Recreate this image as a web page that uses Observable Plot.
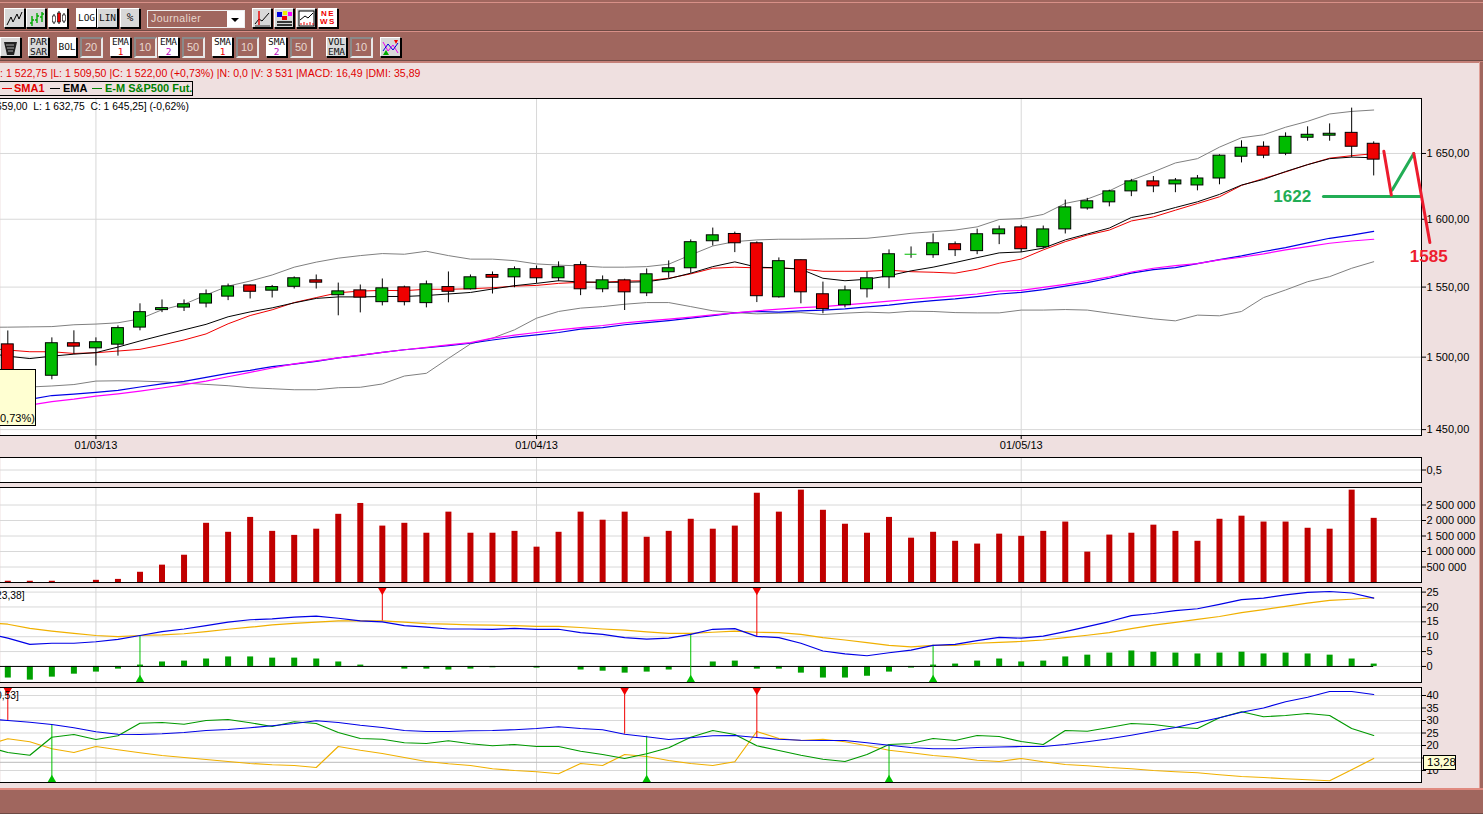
<!DOCTYPE html>
<html lang="fr">
<head>
<meta charset="utf-8">
<title>E-M S&amp;P500 Fut.</title>
<script src="https://cdn.jsdelivr.net/npm/d3@7"></script>
<script src="https://cdn.jsdelivr.net/npm/@observablehq/plot@0.6"></script>
<style>
html,body{margin:0;padding:0;width:1483px;height:814px;overflow:hidden;background:#efe0e0;font-family:"Liberation Sans",Arial,sans-serif}
#page{position:relative;width:1483px;height:814px;overflow:hidden}
.panel{position:absolute;left:0}
.panel svg{display:block;overflow:visible}
.abs{position:absolute;white-space:pre}
.bar{position:absolute;left:0;right:0;background:#a0665e}
.btn{position:absolute;box-sizing:border-box;background:#d8d8d8;border:1px solid #000;border-left-color:#fff;border-top-color:#fff;box-shadow:1px 1px 0 #000;font:9.5px/10px "DejaVu Sans Mono",monospace;color:#111;text-align:center;display:flex;flex-direction:column;align-items:center;justify-content:center}
.btn.on{background:#fff}
.inp{position:absolute;box-sizing:border-box;background:#a0665e;border:2px solid #8a8a8a;border-right-color:#e8e8e8;border-bottom-color:#e8e8e8;color:#e8d8d0;font:11px/17px "Liberation Sans",sans-serif;padding-left:3px}
.status{left:0;top:67px;font-size:10.5px;line-height:13px;color:#e00000;letter-spacing:.07px}
.legend{left:-1px;top:81px;width:194px;height:15px;box-sizing:border-box;border:1px solid #000;font:bold 11px/13px "Liberation Sans",sans-serif}
.legend span{position:absolute;top:0;white-space:pre}
.legend i{position:absolute;top:6px;height:1px;width:10px}
.info{font-size:10.3px;line-height:13px;color:#000}
.tip{background:#ffffd2;border:1px solid #000;box-sizing:border-box;font-size:11px;color:#000}
</style>
</head>
<body>
<div id="page"></div>
<script>
// ---- Axis labels and ticks
const dateTicks = [4, 24, 46];
const dateLabels = ["01/03/13", "01/04/13", "01/05/13"];
const priceTicks = [1450, 1500, 1550, 1600, 1650];
const volumeTicks = [500000, 1000000, 1500000, 2000000, 2500000];
const macdTicks = [0, 5, 10, 15, 20, 25];
const dmiTicks = [10, 15, 20, 25, 30, 35, 40];

// ---- Daily candles, sessions 0..62
const opens = [1509,1480,1487,1509.8,1506.2,1508.8,1520.9,1533.4,1535.2,1538.1,
1543.1,1551.2,1547.4,1550.2,1554.9,1544.1,1547.6,1539.1,1549.8,1538.4,
1550,1548.4,1558.8,1557.1,1563,1556.4,1566,1548.4,1554.9,1545.5,
1560.8,1563.7,1583.6,1589,1582.1,1542.6,1569.6,1544.8,1536.9,1548.4,
1557.1,1574,1573.3,1581.4,1576.3,1588.8,1593.9,1579.2,1592.4,1608.1,
1612.7,1621,1628.6,1626.3,1625.5,1630.8,1647.5,1655.2,1649.8,1662.2,
1663.8,1666,1657.5];
const highs = [1518.5,1490,1513.6,1518.6,1513.6,1522.1,1537.9,1540.7,1540.7,1547.9,
1552.2,1551.5,1551.2,1557.4,1558.8,1552.9,1551.5,1555.9,1550.7,1554.4,
1561,1558.8,1561,1564.7,1565.4,1568.4,1568.4,1558.1,1555.7,1563.2,
1569.1,1584.6,1593.4,1590.4,1583.1,1571.3,1569.9,1553.6,1550.7,1561,
1577.2,1579.4,1589,1583.1,1592.6,1594.9,1595.4,1594.9,1614.4,1615.7,
1621.9,1630.1,1632.3,1630.8,1633.1,1649,1659.8,1659,1666,1670.7,
1673,1685.4,1659];
const lows = [1481,1470,1484.2,1502,1493.8,1500.7,1518.6,1531.6,1532.4,1535,
1540.2,1541.4,1542.1,1548.6,1548.6,1529.3,1531.4,1536.4,1536.4,1535,
1538.6,1547.9,1545,1549.5,1552.7,1553.9,1543.8,1545.9,1533.1,1543.1,
1556.4,1560,1580.1,1575.2,1538.8,1542,1537.9,1530.7,1535,1542.1,
1548.8,1571,1571,1572.3,1573.7,1581.1,1575.2,1577.9,1589,1606.8,
1609.3,1617,1620,1620,1621.4,1626,1642.7,1646,1648.3,1659.5,
1659.5,1646.7,1632.75];
const closes = [1485.5,1474,1509.8,1507.4,1510.5,1520.5,1531.9,1534.8,1537.6,1544.8,
1550.5,1546.6,1550,1556.4,1553.2,1546.9,1542.4,1549.1,1539.1,1552,
1546.6,1557.1,1556.8,1563,1556.4,1564.5,1548.4,1554.9,1546.2,1559.3,
1563.7,1582.9,1588,1582.1,1543.4,1568.9,1546.2,1534.1,1547.6,1556.4,
1574,1574,1582.1,1577,1588.8,1592.4,1577.7,1592.4,1608.9,1613.5,
1621,1628.6,1624.8,1629.3,1630.8,1648.3,1654.4,1648.3,1662.9,1664.5,
1665.3,1655.2,1645.25];

// ---- Price overlays, sessions -1..62 (the first value runs off the left edge)
const ema = [1503,1500.7,1499,1500.7,1502.1,1503.2,1507.1,1511.4,1515.4,1519.3,1523.2,
1528.6,1532.1,1535,1538.6,1541.8,1542.9,1542.9,1543.2,1543.2,1543.9,
1545,1546.1,1548.6,1551,1552.7,1554.6,1553.7,1553.5,1553.5,1553.9,
1556.1,1560.1,1564.9,1568.4,1564.5,1564,1563,1556.4,1554.6,1555.7,
1558.3,1561.8,1564.5,1567.9,1571.5,1575,1575.7,1578.5,1584.6,1589,
1593.4,1601.3,1604.3,1608.8,1613.1,1618.7,1625.8,1630.1,1636.1,1641.4,
1646,1647.2,1646.7];
const sma = [1506.4,1505,1503.8,1503.8,1502.6,1503.1,1504.3,1505.5,1508.6,1512.1,1516.4,
1523.6,1529.5,1533.6,1538.8,1542.4,1545.9,1547.1,1547.6,1547.4,1548.4,
1548.4,1548.8,1549.5,1550.7,1551.2,1552.7,1553.5,1553.5,1554.4,1554.6,
1556.4,1559.6,1563.7,1564.5,1564,1564,1563.2,1561.5,1561.5,1561.5,
1562.3,1561.2,1560.8,1560.1,1563,1567.4,1570.4,1577.2,1583.3,1588.2,
1591.9,1598.7,1601.7,1606.8,1611.8,1616.9,1625.5,1630.8,1635.8,1641.4,
1646.4,1648.3,1649.8];
const bollUpper = [1521.1,1521.2,1521.4,1521.6,1522.9,1523.4,1524.3,1527.1,1533.6,1537.6,1544.3,
1550.7,1554.4,1558.8,1564.5,1568.2,1571.1,1573,1574.5,1574,1576.2,
1573,1570.4,1570.4,1569.3,1566.9,1566,1565.4,1564.5,1564.5,1564.9,
1566.7,1573.5,1580.1,1583.3,1584.6,1585.1,1585.1,1585.3,1585.5,1585.8,
1587.5,1589.5,1590.7,1591.9,1594.3,1599.8,1600.5,1603.6,1611.9,1615.2,
1621.4,1629.5,1635.8,1642.7,1646,1654.9,1662.2,1664.5,1670.4,1675,
1680.8,1682.8,1683.9];
const bollLower = [1477,1477.8,1479.2,1479.9,1480.9,1483.3,1483.5,1483.3,1482.8,1481.9,1481,
1480.1,1478.7,1478,1477.3,1477.3,1478.7,1479,1481.3,1486.8,1488.7,
1499.1,1509.3,1513.4,1519.3,1527.6,1532.4,1534.8,1535.9,1537.6,1538.8,
1538.8,1535.9,1532.9,1531.6,1530.7,1531.2,1531.6,1530.2,1531.2,1531.9,
1531.4,1532.6,1532.4,1531.6,1531.4,1531.4,1533.4,1533.4,1533.8,1533.4,
1531.2,1529.1,1527.1,1525.7,1529.8,1529.3,1532.4,1542.4,1547.9,1553.9,
1557.6,1563.7,1568.5];
const ema50 = [1469.4,1469.8,1470.6,1473.3,1474.3,1475.5,1476.9,1479.2,1481.3,1483.1,1485.9,
1488.7,1490.8,1493.3,1495.1,1497,1499.5,1501.2,1503.4,1505.2,1506.6,
1508.1,1509.8,1512.1,1514.1,1515.7,1517.4,1519.8,1520.9,1522.9,1524.5,
1525.9,1527.6,1529.5,1531.4,1532.4,1531.9,1532.9,1533.4,1534.3,1535.7,
1536.9,1538.8,1540.2,1541.4,1543.1,1545,1546.2,1548.1,1550.7,1553.2,
1556.4,1560.1,1562.7,1564.2,1567.1,1570.1,1572.8,1576,1578.9,1582.4,
1585.8,1588.2,1591];
const sma50 = [1464.6,1465.3,1466.7,1469.1,1470.8,1472.9,1474.5,1476.4,1478.5,1480.8,1483.3,
1486.3,1489.4,1492.4,1495.3,1497.4,1499.5,1501.4,1503.4,1505.2,1506.9,
1508.6,1510.2,1513.4,1515.5,1517.4,1519.3,1520.9,1522.4,1524.3,1525.7,
1526.9,1528.4,1530,1531.4,1532.9,1534.1,1535.2,1535.9,1537.1,1538.4,
1539.8,1541.2,1542.4,1543.6,1545,1547,1547.6,1549.8,1552,1554.6,
1557.4,1561,1563.7,1565.7,1567.1,1569.9,1571.8,1574.3,1577.2,1579.6,
1582.1,1583.8,1585.1];

// ---- Hand-drawn forecast on the price panel
const forecastDownX = [62.46, 62.8];
const forecastDownY = [1651.8, 1618.2];
const forecastUpX = [62.84, 63.82];
const forecastUpY = [1622, 1650];
const forecastFallX = [63.82, 64.55];
const forecastFallY = [1650, 1582.6];
const supportX = [59.72, 64.12];
const supportY = [1617.2, 1617.2];
const labelValues = ["1622", "1585"];
const labelX = [58.3, 64.5];
const labelY = [1617, 1572.3];

// ---- Volume, sessions 0..62
const volume = [40000,40000,40000,0,70000,100000,330000,560000,880000,1910000,
1620000,2100000,1650000,1520000,1720000,2200000,2550000,1820000,1910000,1590000,
2270000,1590000,1590000,1650000,1140000,1620000,2270000,2010000,2270000,1460000,
1650000,2040000,1720000,1820000,2880000,2270000,2980000,2330000,1880000,1590000,
2100000,1430000,1620000,1330000,1240000,1560000,1490000,1650000,1950000,980000,
1530000,1590000,1850000,1650000,1330000,2040000,2140000,1950000,1950000,1750000,
1720000,2980000,2070000];

// ---- MACD, lines sessions -1..62, histogram 0..62
const macdLine = [11.2,9.5,7.4,7.8,7.8,8.3,9.1,10.4,11.7,12.6,13.7,
14.9,15.7,16,16.6,16.9,16.2,15.3,15,13.7,13.2,
12.6,12.6,12.5,12.8,12.5,12.5,11.4,10.8,9.7,9.2,
9.5,10.8,12.5,12.7,10.1,9.7,7.8,5.2,4.2,3.6,
4.6,5.5,7.1,7.4,8.7,9.8,9.5,10.2,11.7,13.4,
15.1,17.1,17.8,18.8,19.4,20.9,22.5,23,24.1,24.9,
25.2,24.7,23];
const macdSignal = [14.7,14.2,12.8,11.9,11.1,10.4,10,10.4,10.6,11,11.7,
12.5,13.2,14,14.5,14.9,15.3,15.3,15.3,14.9,14.4,
14.2,14,13.9,13.7,13.5,13.5,13.1,12.6,12.2,11.6,
11.1,11.1,11.5,11.9,11.5,11.4,10.8,9.7,8.9,8,
7.1,6.6,7.1,7.1,7.8,8.1,8.4,8.9,9.7,10.5,
11.4,12.7,13.9,14.8,15.8,16.8,18.1,19.1,20.2,21.3,
22.2,22.6,23.1];
const macdHist = [-3.9,-4.6,-3.6,-2.6,-1.9,-0.9,0.45,1.5,1.8,2.5,
3.2,3.2,2.8,2.8,2.5,1.5,0.45,0,-0.9,-0.9,
-1.2,-0.9,-0.45,0,-0.55,0,-1.2,-1.6,-2.25,-1.9,
-1.2,0,1.5,1.8,-0.9,-0.9,-2.25,-3.9,-3.9,-3.3,
-1.9,-0.55,0.45,0.8,1.8,2.5,1.5,1.8,3.2,3.8,
4.5,5.2,4.8,4.5,4.2,4.5,4.8,4.2,4.5,4.2,
3.8,2.5,0.8];
const macdSellDays = [17, 34];
const macdSellLevels = [15.3, 10.1];
const macdBuyDays = [6, 31, 42];
const macdBuyLevels = [10.4, 10.8, 7.1];

// ---- DMI, sessions -1..62
const adx = [30.6,30,29.3,28.4,27.1,25.5,24.5,24.4,24.7,25.2,26,
26.4,27.1,27.9,28.8,29.9,29.2,28.1,27.2,26,25.6,
25.6,25.9,26,26.3,26.8,27.5,26.8,26.3,24.5,23.5,
22.4,23.1,23.9,24,23.2,22.5,22.1,22,22,21.1,
20.1,19.2,18.7,18.7,19.2,19.4,19.6,19.6,20.4,21.5,
22.7,24.1,25.7,27.2,29.2,31.1,33.3,35,37.5,39.3,
41.6,41.6,40.4];
const diPlus = [19.5,17.2,16.1,23.3,24.4,22.4,23.9,28.9,29.2,28.5,30,
30.4,29.1,27.6,29.5,28.8,25.2,22.8,22.5,21.1,20.8,
21.9,20.7,19.9,20.4,19.6,19.6,17.7,16.4,14.8,16.7,
19.1,23.3,26,24.4,19.9,18,16.1,14.5,13.6,16.4,
20.4,20.8,22.8,22,24,23.6,21.6,20.4,26,25.7,
27.2,28.8,28.4,27.3,26.8,31.1,33.5,31.5,32,32.8,
32,26.8,24];
const diMinus = [20,22.7,21.5,18.7,17.2,19.6,18.3,17.1,16,15.2,14.4,
13.6,12.8,12.3,12,11.2,19.6,18.1,16.8,15.2,13.6,
12.7,12,10.7,10,9.5,8.7,12.8,12,16.4,15.6,
14,12.8,12,13.5,25.6,22.8,22,22.5,21.5,19.9,
18.1,17.1,16,15.3,14.1,13.6,14.8,13.5,12.4,11.9,
11.2,10.7,10,9.5,9.1,8.3,7.6,7.2,6.7,6.3,
5.9,10.3,14.8];
const dmiSellDays = [0, 28, 34];
const dmiSellLevels = [30, 24.5, 23.2];
const dmiBuyDays = [2, 29, 40];
const dmiBuyLevels = [28.1, 23.7, 20.4];
const dmiCursor = 13.28;

// ---- Session indexes
const days = d3.range(0, 63);
const lineDays = d3.range(-1, 63);

// ---- Shared scale and style
const fr = d3.formatLocale({decimal: ",", thousands: " ", grouping: [3], currency: ["", " €"]});
const xDomain = [-0.3314, 64.17];
const C = {grid: "#d8d8d8", up: "#00bb00", down: "#f00000", volume: "#c00000", hist: "#00a000",
  blue: "#0000e6", magenta: "#ff00ff", orange: "#f0b000", gray: "#808080", dmiGreen: "#009900",
  signalUp: "#00c000", signalDown: "#f00000", forecastRed: "#ed1c2e", forecastGreen: "#22ad55"};
const page = document.getElementById("page");

function panel(top, innerHeight, yOptions, ticks, tickFormat, marks, opts = {}) {
  const marginTop = 1, marginBottom = opts.marginBottom ?? 1;
  const svg = Plot.plot({
    width: 1483, height: marginTop + innerHeight + marginBottom,
    marginLeft: 0, marginRight: 62, marginTop, marginBottom,
    style: {background: "transparent", fontFamily: '"Liberation Sans",Arial,sans-serif', fontSize: "11px", color: "#000"},
    x: {type: "linear", domain: xDomain, axis: null},
    y: {axis: null, ...yOptions},
    marks: [
      Plot.frame({fill: "#fff", stroke: null}),
      Plot.gridY(ticks, {stroke: C.grid, strokeOpacity: 1}),
      Plot.gridX(dateTicks, {stroke: C.grid, strokeOpacity: 1}),
      ...marks,
      Plot.frame({anchor: "top", stroke: "#000"}),
      Plot.frame({anchor: "bottom", stroke: "#000"}),
      Plot.frame({anchor: "right", stroke: "#000"}),
      Plot.axisY(ticks, {anchor: "right", tickFormat, tickSize: 4, tickPadding: 1, label: null, stroke: "#000", fill: "#000"}),
      ...(opts.after ?? [])
    ]
  });
  const wrap = document.createElement("div");
  wrap.className = "panel";
  wrap.style.top = (top - marginTop) + "px";
  wrap.append(svg);
  page.append(wrap);
}

function signals(sellDays, sellLevels, buyDays, buyLevels, top, bottom) {
  return [
    Plot.ruleX(sellDays, {x: d => d, y1: (d, i) => sellLevels[i], y2: () => top, stroke: C.signalDown}),
    Plot.dot(sellDays, {x: d => d, y: () => top, dy: 3, symbol: "triangle2", rotate: 180, r: 4, fill: C.signalDown, stroke: null}),
    Plot.ruleX(buyDays, {x: d => d, y1: (d, i) => buyLevels[i], y2: () => bottom, stroke: C.signalUp}),
    Plot.dot(buyDays, {x: d => d, y: () => bottom, dy: -3, symbol: "triangle2", r: 4, fill: C.signalUp, stroke: null})
  ];
}
const overlay = (values, stroke, width = 1) => Plot.line(values, {x: lineDays, y: values, stroke, strokeWidth: width, clip: true, curve: "linear"});

// ---- Price panel
const candles = days.map(i => ({i, o: opens[i], h: highs[i], l: lows[i], c: closes[i]}));
panel(98, 337, {type: "log", domain: [1446, 1693]}, priceTicks, fr.format(",.2f"), [
  overlay(bollUpper, C.gray), overlay(bollLower, C.gray),
  overlay(ema50, C.blue, 1.2), overlay(sma50, C.magenta, 1.2),
  overlay(sma, "#f00000"), overlay(ema, "#000"),
  Plot.ruleX(candles, {x: "i", y1: "l", y2: "h", stroke: "#000"}),
  Plot.rect(candles.filter(d => d.o !== d.c), {
    x1: d => d.i - 0.27, x2: d => d.i + 0.27, y1: "o", y2: "c",
    fill: d => d.c > d.o ? C.up : C.down, stroke: "#000", clip: true
  }),
  Plot.ruleY(candles.filter(d => d.o === d.c), {x1: d => d.i - 0.27, x2: d => d.i + 0.27, y: "c", stroke: C.up}),
], {
  marginBottom: 24,
  after: [
    Plot.axisX(dateTicks, {anchor: "bottom", tickFormat: d => dateLabels[dateTicks.indexOf(d)], tickSize: 4, tickPadding: 2, label: null}),
    Plot.line(supportX, {x: supportX, y: supportY, stroke: C.forecastGreen, strokeWidth: 3}),
    Plot.line(forecastUpX, {x: forecastUpX, y: forecastUpY, stroke: C.forecastGreen, strokeWidth: 3}),
    Plot.line(forecastDownX, {x: forecastDownX, y: forecastDownY, stroke: C.forecastRed, strokeWidth: 3}),
    Plot.line(forecastFallX, {x: forecastFallX, y: forecastFallY, stroke: C.forecastRed, strokeWidth: 3}),
    Plot.text(labelValues, {x: labelX, y: labelY, text: d => d, fill: (d, i) => i ? C.forecastRed : C.forecastGreen, fontWeight: "bold", fontSize: 17})
  ]
});

// ---- Empty study panel
panel(457, 25, {domain: [0, 1]}, [0.5], d => "0,5", []);

// ---- Volume panel
panel(487, 95, {domain: [0, 3065000]}, volumeTicks, fr.format(",.0f"), [
  Plot.ruleX(days, {x: d => d, y1: () => 0, y2: i => volume[i], stroke: C.volume, strokeWidth: 6})
]);

// ---- MACD panel
panel(587, 95, {domain: [-5.4, 26.55]}, macdTicks, d3.format("d"), [
  Plot.ruleX(days, {x: d => d, y1: () => 0, y2: i => macdHist[i], stroke: C.hist, strokeWidth: 6}),
  Plot.ruleY([0], {x1: () => xDomain[0], x2: () => 62, stroke: "#000"}),
  overlay(macdSignal, C.orange, 1.2),
  ...signals(macdSellDays, macdSellLevels, macdBuyDays, macdBuyLevels, 26.55, -5.4),
  overlay(macdLine, C.blue, 1.2),
]);

// ---- DMI panel (the 15 label sits behind the cursor tooltip in the reference)
panel(687, 95, {domain: [5.2, 43.2]}, dmiTicks, d => d === 15 ? "" : String(d), [
  Plot.ruleY([dmiCursor], {stroke: "#bbb"}),
  overlay(diMinus, C.orange, 1.2),
  overlay(diPlus, C.dmiGreen, 1.2),
  ...signals(dmiSellDays, dmiSellLevels, dmiBuyDays, dmiBuyLevels, 43.2, 5.2),
  overlay(adx, C.blue, 1.2),
]);

// ---- Application chrome (toolbar, status line, legend, tooltips)
const add = (cls, style, html = "") => {
  const el = document.createElement("div");
  el.className = cls; el.style.cssText = style; el.innerHTML = html; page.append(el); return el;
};
add("bar", "top:0;height:62px");
add("bar", "top:2px;height:1px;background:#d89088");
add("bar", "top:30px;height:1px;background:#6e4a44");
add("bar", "top:31px;height:1px;background:#d89088");
add("bar", "top:60px;height:1px;background:#6e4a44");
add("bar", "top:61px;height:2px;background:#c48078");
add("bar", "top:788px;height:26px");
add("bar", "top:788px;height:2px;background:#e08a80");
add("bar", "top:813px;height:1px;background:#6e4a44");
add("", "position:absolute;left:1479px;top:62px;width:4px;height:726px;background:#a0665e;border-left:1px solid #e0a098;box-sizing:border-box");

const ic = s => `<svg width="17" height="17" viewBox="0 0 17 17" fill="none">${s}</svg>`;
const cs = (x, y, h, f) => `<line x1="${x}" x2="${x}" y1="${y - 2}" y2="${y + h + 2}" stroke="#000"/><rect x="${x - 1.5}" y="${y}" width="3" height="${h}" fill="${f}" stroke="#000" stroke-width=".6"/>`;
const buttons = [
  [4, 8, 21, 20, "", ic('<path d="M1 15L5 7L7 12L11 4L13 9L16 2" stroke="#000"/>')],
  [26, 8, 20, 20, "", ic('<path d="M4 6V16M2 13H4M4 10H6M9 3V13M7 10H9M9 6H11M14 2V12M12 7H14M14 4H16" stroke="#0a0" stroke-width="1.4"/>')],
  [48, 8, 20, 20, "on", ic(cs(4, 6, 6, "#fff") + cs(9, 3, 9, "#e00") + cs(14, 5, 6, "#fff"))],
  [76, 8, 21, 20, "on", "LOG"], [97, 8, 21, 20, "", "LIN"], [120, 8, 20, 20, "", '<span style="font-size:11px">%</span>'],
  [252, 8, 20, 20, "", ic('<path d="M1 14L5 9L8 11L15 3" stroke="#000"/><path d="M5 1V16" stroke="#e00" stroke-width="1.4"/><path d="M1 16H16" stroke="#888" stroke-width="2"/>')],
  [274, 8, 20, 20, "", ic('<rect x="1" y="2" width="5" height="5" fill="#00d"/><rect x="7" y="1" width="4" height="4" fill="#ee0"/><rect x="12" y="2" width="4" height="4" fill="#f0f"/><rect x="6" y="6" width="5" height="4" fill="#e00"/><path d="M1 12H16M1 15H16" stroke="#000" stroke-width="1.5"/>')],
  [296, 8, 20, 20, "", ic('<rect x="1" y="1" width="15" height="15" fill="#fff" stroke="#000"/><path d="M2 10L7 6L10 8L15 3" stroke="#000"/><path d="M3 15V13M6 15V12M9 15V13M12 15V12M15 15V13" stroke="#e00"/>')],
  [318, 8, 20, 20, "on", '<span style="color:#e00;font:bold 8px/8px Liberation Sans;letter-spacing:1.5px">NE<br>WS</span>'],
  [0, 37, 21, 20, "", ic('<path d="M2 3H15L12 16H5Z" fill="#222"/><path d="M4 6L12 6M5 9L12 9M6 12L11 12" stroke="#aaa"/>')],
  [28, 37, 21, 20, "", "PAR<br>SAR"], [57, 37, 20, 20, "on", "BOL"],
  [110, 37, 21, 20, "on", 'EMA<br><span style="color:#e00">1</span>'],
  [158, 37, 21, 20, "on", 'EMA<br><span style="color:#b0b">2</span>'],
  [212, 37, 21, 20, "on", 'SMA<br><span style="color:#e00">1</span>'],
  [266, 37, 21, 20, "on", 'SMA<br><span style="color:#b0b">2</span>'],
  [326, 37, 21, 20, "", "VOL<br>EMA"],
  [380, 37, 21, 20, "", ic('<path d="M1 3L6 12L11 6L16 14" stroke="#e0e"/><path d="M1 12L6 5L11 11L16 4" stroke="#00d"/><path d="M12 1H16L14 5Z" fill="#e00"/><path d="M4 11L1 16H7Z" fill="#0a0"/>')]
];
buttons.forEach(([x, y, w, h, cls, html]) => add("btn " + cls, `left:${x}px;top:${y}px;width:${w}px;height:${h}px`, html));
[[80, "20"], [134, "10"], [182, "50"], [236, "10"], [290, "50"], [350, "10"]].forEach(([x, t]) =>
  add("inp", `left:${x}px;top:37px;width:23px;height:21px`, t));
add("inp", "left:147px;top:10px;width:98px;height:18px;line-height:14px;border:1px solid #eee;font-size:10.5px;letter-spacing:.4px", "Journalier");
add("", "position:absolute;left:227px;top:11px;width:17px;height:16px;background:#fff", '<svg width="17" height="16"><path d="M4 7H12L8 11Z" fill="#000"/></svg>');

add("abs status", "", ": 1 522,75 |L: 1 509,50 |C: 1 522,00 (+0,73%) |N: 0,0 |V: 3 531 |MACD: 16,49 |DMI: 35,89");
add("abs legend", "",
  '<i style="left:2px;background:#e00000"></i><span style="left:14px;color:#e00000">SMA1</span>' +
  '<i style="left:50px;background:#000"></i><span style="left:63px;color:#000">EMA</span>' +
  '<i style="left:92px;background:#008000"></i><span style="left:105px;color:#008000">E-M S&amp;P500 Fut.</span>');
add("abs info", "left:-4px;top:100px", "659,00  L: 1 632,75  C: 1 645,25] (-0,62%)");
add("abs info", "left:-4px;top:589px", "23,38]");
add("abs info", "left:-4px;top:689px", "0,53]");
add("abs tip", "left:-2px;top:369px;width:38px;height:57px;padding:42px 0 0 1px", "0,73%)");
add("abs tip", "left:1423px;top:755px;width:33px;height:15px;line-height:13px;padding-left:3px;font-size:11.5px", "13,28");
</script>
</body>
</html>
